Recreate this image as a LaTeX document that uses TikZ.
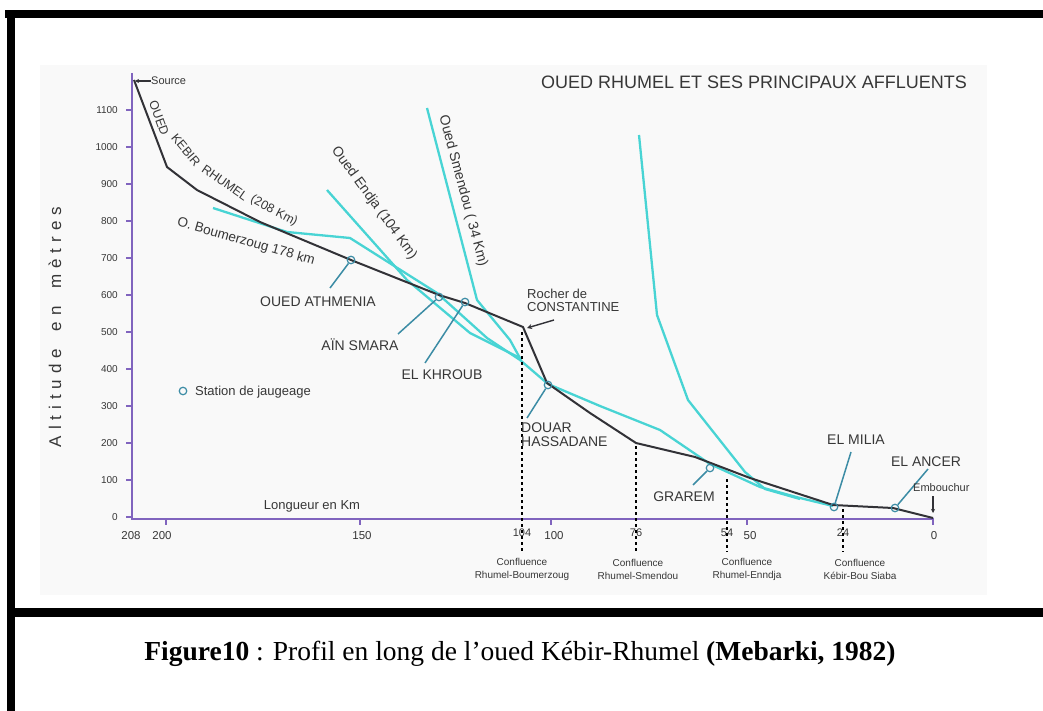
\documentclass[tikz,border=0pt]{standalone}
\usepackage{fontspec}
\setmainfont{Liberation Sans}
\newfontfamily\capfont{Liberation Serif}
\usetikzlibrary{arrows.meta}
\definecolor{axiscol}{RGB}{128,100,190}
\definecolor{rivercol}{RGB}{50,50,55}
\definecolor{tribcol}{RGB}{72,212,212}
\definecolor{leadcol}{RGB}{60,140,165}
\definecolor{txtcol}{RGB}{55,55,55}
\definecolor{bgcol}{RGB}{249,249,249}
\newcommand{\fsz}[1]{\fontsize{#1}{#1}\selectfont}
\begin{document}
\begin{tikzpicture}[x=1pt,y=-1pt,
  axisline/.style={draw=axiscol,line width=1.6pt},
  riverline/.style={draw=rivercol,line width=2pt,line join=round},
  tribline/.style={draw=tribcol,line width=2.3pt,line join=round},
  leadline/.style={draw=leadcol,line width=1.5pt},
  station/.style={circle,draw=leadcol,line width=1.2pt,minimum size=7.5pt,inner sep=0pt},
  conf/.style={draw=black,line width=1.6pt,dash pattern=on 3pt off 3pt},
  lbl/.style={text=txtcol,font=\fsz{14},inner sep=0pt},
  small/.style={text=txtcol,font=\fsz{13},inner sep=0pt},
  ticklbl/.style={text=txtcol,font=\fsz{10},inner sep=0pt},
  xlbl/.style={text=txtcol,font=\fsz{11.5},inner sep=0pt},
  conflbl/.style={text=txtcol,font=\fsz{10},inner sep=0pt,align=center},
  tiny/.style={text=txtcol,font=\fsz{11},inner sep=0pt},
  rlbl/.style={text=txtcol,font=\fsz{12.5},inner sep=0pt}
]
\useasboundingbox (0,0) rectangle (1043,711);
\fill[white] (0,0) rectangle (1043,711);
\fill[bgcol] (40,65) rectangle (987,595);
% frame
\fill[black] (5,10) rectangle (1043,18);
\fill[black] (7,10) rectangle (15,711);
\fill[black] (7,608) rectangle (1043,617);

% title
\node[text=txtcol,font=\fsz{18},inner sep=0pt,anchor=east] (title) at (967,82) {OUED RHUMEL ET SES PRINCIPAUX AFFLUENTS};

% y axis title
\node[text=txtcol,font=\fsz{17},inner sep=0pt,rotate=90] (ytitle) at (55,327)
  {\makebox[240pt][s]{A\hfil l\hfil t\hfil i\hfil t\hfil u\hfil d\hfil e\hfil\hfil\hfil e\hfil n\hfil\hfil\hfil m\hfil è\hfil t\hfil r\hfil e\hfil s}};

% axes
\draw[axisline] (132,73) -- (132,519) -- (934,519);
\foreach \v [evaluate=\v as \yy using 517-37*\v, evaluate=\v as \lab using int(100*\v)] in {0,...,11}{
  \draw[axisline,line width=1.2pt] (126,\yy) -- (132,\yy);
  \node[ticklbl,anchor=east] (yt\v) at (118,\yy) {\lab};
}
\foreach \xx in {166,360,551,747,933}{
  \draw[axisline,line width=1.2pt] (\xx,519) -- (\xx,525);
}
\node[xlbl] (x208) at (131,536) {208};
\node[xlbl] (x200) at (162,536) {200};
\node[xlbl] (x150) at (362,536) {150};
\node[xlbl] (x100) at (554,536) {100};
\node[xlbl] (x50)  at (750,536) {50};
\node[xlbl] (x0)   at (934,536) {0};
\node[tiny] (x104) at (522,533) {104};
\node[tiny] (x76)  at (636,533) {76};
\node[tiny] (x54)  at (727,533) {54};
\node[tiny] (x24)  at (843,533) {24};

\node[small] (longueur) at (312,506) {Longueur en Km};

% confluence labels
\node[conflbl] (c104) at (522,569) {Confluence\\[3pt]Rhumel-Boumerzoug};
\node[conflbl] (c76)  at (638,569) {Confluence\\[3pt]Rhumel-Smendou};
\node[conflbl] (c54)  at (747,569) {Confluence\\[3pt]Rhumel-Enndja};
\node[conflbl] (c24)  at (860,569) {Confluence\\[3pt]Kébir-Bou Siaba};

% tributaries
\draw[tribline] (213,208) -- (287,232) -- (350,238) -- (437,293) -- (487,338) -- (520,360);
\draw[tribline] (327,190) -- (407,280) -- (470,333) -- (520,358);
\draw[tribline] (427,108) -- (477,300) -- (510,340) -- (521,360);
\draw[tribline] (520,360) -- (548,384) -- (600,406) -- (660,430) -- (710,464) -- (760,487) -- (800,498) -- (833,506);
\draw[tribline] (639,135) -- (657,315) -- (688,400) -- (745,472) -- (765,489) -- (800,499);

% main river
\draw[riverline] (134,80) -- (167,167) -- (197,190) -- (260,222) -- (351,260) -- (439,295) -- (465,303)
  -- (523,327) -- (547,383) -- (590,413) -- (636,443) -- (695,457) -- (750,478) -- (833,505) -- (893,508) -- (933,518);

% confluence dashed lines
\draw[conf] (522,332) -- (522,552);
\draw[conf] (636,446) -- (636,552);
\draw[conf] (727,479) -- (727,552);
\draw[conf] (843,509) -- (843,552);

% river labels
\node[rlbl,rotate=-70] (r1) at (159,118) {OUED};
\node[rlbl,rotate=-50] (r2) at (186,150) {KEBIR};
\node[rlbl,rotate=-35] (r3) at (225,183) {RHUMEL};
\node[rlbl,rotate=-28] (r4) at (274,211) {(208 Km)};
\node[font=\fsz{13.5},text=txtcol,inner sep=0pt,rotate=-16] (bou) at (246,242) {O. Boumerzoug 178 km};
\node[font=\fsz{14},text=txtcol,inner sep=0pt,rotate=-54] (end) at (374,203) {Oued Endja (104 Km)};
\node[font=\fsz{14},text=txtcol,inner sep=0pt,rotate=-75] (sme) at (463,191) {Oued Smendou ( 34 Km)};

% source
\node[tiny,anchor=west] (source) at (151,81) {Source};
\coordinate (srcpt) at (135,81);
\draw[rivercol,line width=1.2pt,-{Stealth[length=4pt,width=4pt]}] (source.west) -- (srcpt);

% Rocher de Constantine
\node[small,anchor=west,align=left] (rocher) at (527,300) {Rocher de\\CONSTANTINE};
\coordinate (rocherpt) at (527,328);
\coordinate (rocherarr) at (554,320);
\draw[rivercol,line width=1.4pt,-{Stealth[length=5pt,width=5pt]}] (rocherarr) -- (rocherpt);

% stations
\node[station] (sAth) at (351,260) {};
\node[station] (sAin) at (439,297) {};
\node[station] (sKhr) at (465,302) {};
\node[station] (sDou) at (548,385) {};
\node[station] (sGra) at (710,468) {};
\node[station] (sMil) at (834,507) {};
\node[station] (sAnc) at (895,508) {};

\node[lbl] (lAth) at (318,302) {OUED ATHMENIA};
\node[lbl] (lAin) at (360,345) {AÏN SMARA};
\node[lbl] (lKhr) at (442,375) {EL KHROUB};
\node[lbl,anchor=west,align=left] (lDou) at (521,435) {DOUAR\\HASSADANE};
\node[lbl] (lGra) at (684,497) {GRAREM};
\node[lbl] (lMil) at (856,440) {EL MILIA};
\node[lbl] (lAnc) at (926,462) {EL ANCER};

\coordinate (eAth) at (330,288);
\coordinate (eAin) at (398,334);
\coordinate (eKhr) at (425,363);
\coordinate (eDou) at (527,418);
\coordinate (eGra) at (693,485);
\coordinate (eMil) at (851,452);
\coordinate (eAnc) at (928,469);
\draw[leadline] (sAth) -- (eAth);
\draw[leadline] (sAin) -- (eAin);
\draw[leadline] (sKhr) -- (eKhr);
\draw[leadline] (sDou) -- (eDou);
\draw[leadline] (sGra) -- (eGra);
\draw[leadline] (sMil) -- (eMil);
\draw[leadline] (sAnc) -- (eAnc);

% embouchure
\node[tiny,anchor=west] (embo) at (913,488) {Embouchur};
\coordinate (emtop) at (933,496);
\coordinate (embot) at (933,513);
\draw[rivercol,line width=1.2pt,-{Stealth[length=4pt,width=4pt]}] (emtop) -- (embot);

% legend
\node[station] (legst) at (183,391) {};
\node[small,anchor=west] (legtxt) at (195,392) {Station de jaugeage};

% caption
\node[font=\capfont\fsz{27.5},inner sep=0pt] (caption) at (520,654)
  {\textbf{Figure10} : Profil en long de l’oued Kébir-Rhumel \textbf{(Mebarki, 1982)}};
\end{tikzpicture}
\end{document}
